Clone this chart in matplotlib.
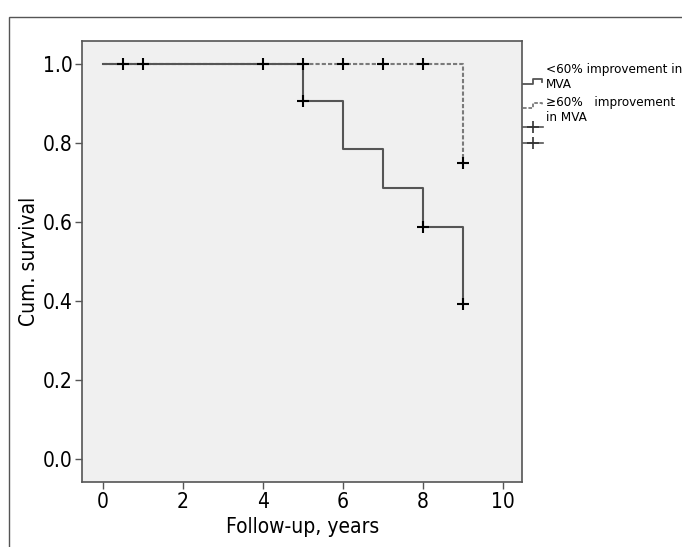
import matplotlib
matplotlib.use("Agg")
import matplotlib.pyplot as plt
from matplotlib.lines import Line2D
from matplotlib.patches import Rectangle
from matplotlib import font_manager as fm

plt.rcParams['font.family'] = ['DejaVu Sans']
try:
    _f = fm.findfont(fm.FontProperties(family='DejaVu Sans', stretch='condensed'), fallback_to_default=False)
    HAVE_COND = 'Condensed' in _f
except Exception:
    HAVE_COND = False
if HAVE_COND:
    plt.rcParams['font.stretch'] = 'condensed'

# Kaplan-Meier step data
low_times = [0, 5, 6, 7, 8, 9]
low_surv = [1.0, 0.905, 0.784, 0.686, 0.588, 0.392]
high_times = [0, 9]
high_surv = [1.0, 0.75]

# censored marks
low_cens_t = [5, 8, 9]
low_cens_s = [0.905, 0.588, 0.392]
high_cens_t = [0.5, 1, 4, 5, 6, 7, 8, 9]
high_cens_s = [1.0, 1.0, 1.0, 1.0, 1.0, 1.0, 1.0, 0.75]

xticks = [0, 2, 4, 6, 8, 10]
yticks = [0.0, 0.2, 0.4, 0.6, 0.8, 1.0]
legend_labels = ["<60% improvement in\nMVA", "\u226560%   improvement\nin MVA"]

W, H = 682, 547
fig = plt.figure(figsize=(W / 100, H / 100), dpi=100)
fig.patch.set_facecolor('white')

# outer frame
fig.add_artist(Rectangle((8.5 / W, -0.1), 1.2, 1 - 16.5 / H + 0.1, transform=fig.transFigure,
                         fill=False, edgecolor='#555555', lw=1.0))

ax = fig.add_axes([82.3 / W, 65 / H, 440 / W, 441 / H])
ax.set_facecolor('#f0f0f0')

line_col = '#555555'
dash_col = '#7a7a7a'
ax.step(high_times + [9], high_surv + [high_surv[-1]], where='post', color=dash_col, lw=1.5,
        linestyle=(0, (2, 1)), zorder=2)
ax.step(low_times + [9], low_surv + [low_surv[-1]], where='post', color=line_col, lw=1.5, zorder=3)

ax.plot(high_cens_t, high_cens_s, linestyle='none', marker='+', color='black', ms=9, mew=1.5, zorder=4)
ax.plot(low_cens_t, low_cens_s, linestyle='none', marker='+', color='black', ms=9, mew=1.5, zorder=4)

tick_fs = 15 if HAVE_COND else 14
ax.set_xlim(-0.52, 10.48)
ax.set_ylim(-0.058, 1.058)
ax.set_xticks(xticks)
ax.set_yticks(yticks)
ax.set_xticklabels([str(v) for v in xticks])
ax.set_yticklabels([f"{v:.1f}" for v in yticks])
ax.tick_params(axis='both', labelsize=tick_fs, color='#555555', length=5, width=1, pad=2)
for s in ax.spines.values():
    s.set_color('#555555')
    s.set_linewidth(1.2)

ax.set_xlabel("Follow-up, years", fontsize=tick_fs, labelpad=4)
ax.set_ylabel("Cum. survival", fontsize=tick_fs, labelpad=3)

# legend (manual, SPSS style)
def px(x, y):
    return x / W, 1 - y / H

def glyph(y, color, ls):
    xs = [523, 533, 533, 542, 542]
    ys = [y, y, y - 5, y - 5, y - 2]
    fx = [px(a, b)[0] for a, b in zip(xs, ys)]
    fy = [px(a, b)[1] for a, b in zip(xs, ys)]
    fig.add_artist(Line2D(fx, fy, color=color, lw=1.3, linestyle=ls, transform=fig.transFigure))

glyph(84, line_col, '-')
glyph(108, dash_col, (0, (2, 1)))
for yy in (127, 143):
    fig.add_artist(Line2D([px(523, 0)[0], px(543, 0)[0]], [px(0, yy)[1]] * 2, color=line_col, lw=1.2,
                          transform=fig.transFigure))
    fig.add_artist(Line2D([px(533, 0)[0]], [px(0, yy)[1]], marker='+', ms=9, mew=1.2, color='#333333',
                          transform=fig.transFigure))

leg_fs = 9.6 if HAVE_COND else 8
fig.text(*px(546, 63), legend_labels[0], fontsize=leg_fs, va='top', ha='left', linespacing=1.22)
fig.text(*px(546, 96), legend_labels[1], fontsize=leg_fs, va='top', ha='left', linespacing=1.22)

fig.savefig("out.png", dpi=100)
